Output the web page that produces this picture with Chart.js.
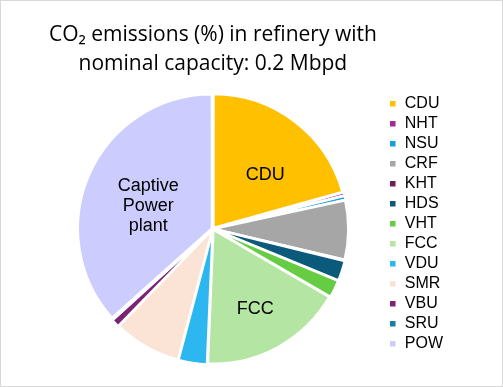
<!DOCTYPE html>
<html>
<head>
<meta charset="utf-8">
<script src="https://cdn.jsdelivr.net/npm/chart.js@4/dist/chart.umd.min.js"></script>
<style>
  html, body { margin: 0; padding: 0; background: #fff; }
  #wrap { width: 501px; height: 385px; border: 1px solid #d9d9d9; }
</style>
</head>
<body>
<div id="wrap"><canvas id="pieChart" width="501" height="385"></canvas></div>
<script>
// units and their share of CO2 emissions (%)
const units = ["CDU", "NHT", "NSU", "CRF", "KHT", "HDS", "VHT", "FCC", "VDU", "SMR", "VBU", "SRU", "POW"];
const shares = [20.3, 0.4, 0.5, 7.0, 0.1, 2.4, 2.1, 17.0, 3.4, 8.0, 1.0, 0.1, 36.0];
const colors = ["#FFC000", "#A02B93", "#1A9FD9", "#A6A6A6", "#6A1F5C", "#0B5A7C", "#66CC44",
                "#B4E5A2", "#2DB7F0", "#FBE3D6", "#7B2374", "#1A7DA6", "#CCCCFF"];
const sliceLabels = ["CDU", "", "", "", "", "", "", "FCC", "", "", "", "", ["Captive", "Power", "plant"]];

// where the in-slice labels sit: angle nudge (deg) from slice middle, fraction of radius
const labelPlace = { 0: [7, 0.56], 7: [1, 0.68], 12: [-5, 0.51] };

const sliceLabelPlugin = {
  id: "sliceLabels",
  afterDatasetsDraw(chart) {
    const ctx = chart.ctx;
    const arcs = chart.getDatasetMeta(0).data;
    ctx.save();
    ctx.font = "18px 'Liberation Sans', Arial, sans-serif";
    ctx.fillStyle = "#000";
    ctx.textAlign = "center";
    ctx.textBaseline = "middle";
    arcs.forEach(function (arc, i) {
      const lbl = sliceLabels[i];
      if (!lbl) return;
      const p = arc.getProps(["x", "y", "startAngle", "endAngle", "outerRadius"], true);
      const place = labelPlace[i] || [0, 0.6];
      const mid = (p.startAngle + p.endAngle) / 2 + place[0] * Math.PI / 180;
      const r = p.outerRadius * place[1];
      const lines = Array.isArray(lbl) ? lbl : [lbl];
      const cx = p.x + Math.cos(mid) * r;
      const cy = p.y + Math.sin(mid) * r;
      lines.forEach(function (t, j) {
        ctx.fillText(t, cx, cy + (j - (lines.length - 1) / 2) * 20);
      });
    });
    ctx.restore();
  }
};

new Chart(document.getElementById("pieChart"), {
  type: "pie",
  data: {
    labels: units,
    datasets: [{
      data: shares,
      backgroundColor: colors,
      borderColor: "#fff",
      borderWidth: 2.5,
      offset: 4,
      hoverOffset: 0
    }]
  },
  options: {
    responsive: false,
    animation: false,
    layout: { padding: { left: 40, right: 49, top: 0, bottom: 20 } },
    plugins: {
      title: {
        display: true,
        fullSize: false,
        text: ["CO\u2082 emissions (%) in refinery with", "nominal capacity: 0.2 Mbpd"],
        color: "#000",
        font: { family: "'Open Sans', 'Liberation Sans', sans-serif", size: 21, weight: "normal", lineHeight: 1.35 },
        padding: { top: 20, bottom: 14 }
      },
      legend: {
        position: "right",
        fullSize: false,
        align: "start",
        labels: {
          color: "#000",
          font: { family: "'Liberation Sans', Arial, sans-serif", size: 16 },
          boxWidth: 8,
          boxHeight: 8,
          padding: 4
        }
      },
      tooltip: { enabled: false }
    }
  },
  plugins: [sliceLabelPlugin]
});
</script>
</body>
</html>
